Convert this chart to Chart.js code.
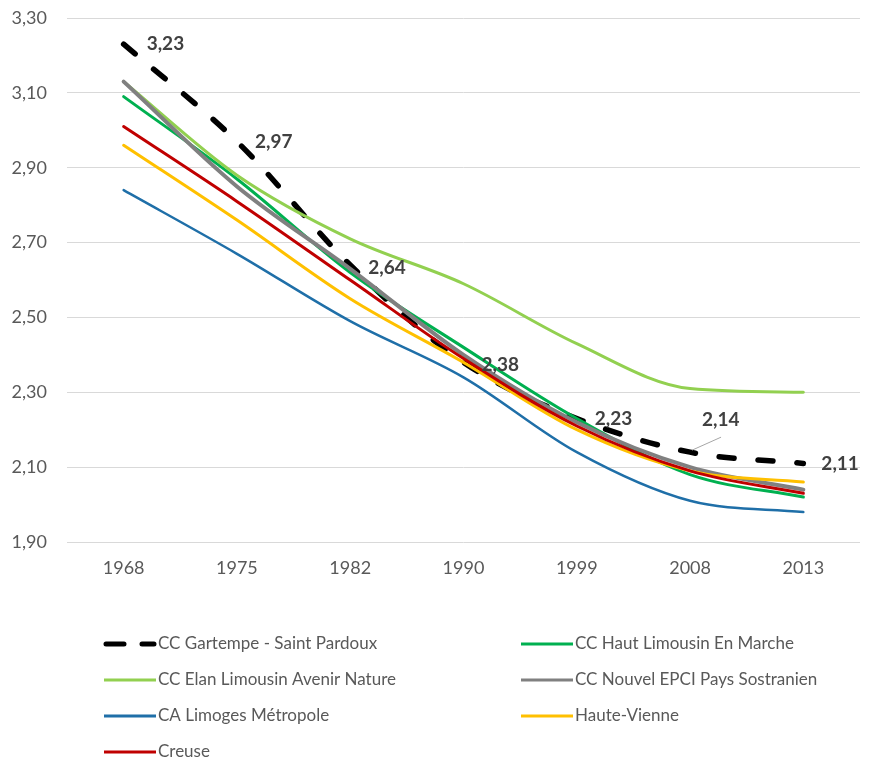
<!DOCTYPE html>
<html>
<head>
<meta charset="utf-8">
<script src="https://cdn.jsdelivr.net/npm/chart.js@4.4.1/dist/chart.umd.min.js"></script>
<style>
  html, body { margin: 0; padding: 0; background: #ffffff; }
  #wrap { width: 869px; height: 760px; }
</style>
</head>
<body>
<div id="wrap"><canvas id="chart" width="869" height="760"></canvas></div>
<script>
// ── data ──
const years = ['1968', '1975', '1982', '1990', '1999', '2008', '2013'];
const yTicks = [1.9, 2.1, 2.3, 2.5, 2.7, 2.9, 3.1, 3.3];

const seriesNames = [
  'CC Gartempe - Saint Pardoux',
  'CC Haut Limousin En Marche',
  'CC Elan Limousin Avenir Nature',
  'CC Nouvel EPCI Pays Sostranien',
  'CA Limoges Métropole',
  'Haute-Vienne',
  'Creuse'
];
const gartempe   = [3.23, 2.97, 2.64, 2.38, 2.23, 2.14, 2.11];
const hautLim    = [3.09, 2.87, 2.62, 2.42, 2.23, 2.08, 2.02];
const elanLim    = [3.13, 2.88, 2.71, 2.59, 2.43, 2.31, 2.30];
const sostranien = [3.13, 2.85, 2.63, 2.40, 2.22, 2.10, 2.04];
const limoges    = [2.84, 2.67, 2.49, 2.34, 2.14, 2.01, 1.98];
const hauteVienne= [2.96, 2.76, 2.55, 2.38, 2.20, 2.09, 2.06];
const creuse     = [3.01, 2.81, 2.60, 2.39, 2.21, 2.09, 2.03];

const seriesData = [gartempe, hautLim, elanLim, sostranien, limoges, hauteVienne, creuse];
const colors = ['#000000', '#00B050', '#92D050', '#808080', '#1F6FA8', '#FFC000', '#C00000'];
const widths = [5.5, 3, 3, 4, 2.5, 3, 3];

// label offsets for the dashed series (style only)
const labelOffsets = [[23, 0], [18, 0], [18, 3], [18, 3], [18, 0], [12, -32], [18, 0]];

const fmt = v => v.toFixed(2).replace('.', ',');
const FONT = 'Lato, "Open Sans", sans-serif';

const datasets = seriesData.map((d, i) => ({
  label: seriesNames[i],
  data: d,
  borderColor: colors[i],
  backgroundColor: colors[i],
  borderWidth: widths[i],
  borderDash: i === 0 ? [15, 24] : [],
  borderCapStyle: 'round',
  pointRadius: 0,
  cubicInterpolationMode: 'monotone',
  fill: false,
  order: seriesData.length - 1 - i
}));

// ── value labels on the dashed series ──
const valueLabels = {
  id: 'valueLabels',
  afterDatasetsDraw(chart) {
    const ctx = chart.ctx;
    const meta = chart.getDatasetMeta(0);
    ctx.save();
    ctx.font = 'bold 19px ' + FONT;
    ctx.fillStyle = '#404040';
    ctx.textBaseline = 'middle';
    ctx.textAlign = 'left';
    meta.data.forEach((pt, i) => {
      const [dx, dy] = labelOffsets[i];
      if (dy < -10) {
        ctx.strokeStyle = '#a6a6a6';
        ctx.lineWidth = 1;
        ctx.beginPath();
        ctx.moveTo(pt.x + 2, pt.y - 2);
        ctx.lineTo(pt.x + 31, pt.y - 15);
        ctx.stroke();
      }
      ctx.fillText(fmt(gartempe[i]), pt.x + dx, pt.y + dy);
    });
    ctx.restore();
  }
};

// ── two-column legend under the plot ──
const bottomLegend = {
  id: 'bottomLegend',
  afterDraw(chart) {
    const ctx = chart.ctx;
    const colX = [104, 521];
    ctx.save();
    ctx.font = '17px ' + FONT;
    ctx.textBaseline = 'middle';
    ctx.textAlign = 'left';
    seriesNames.forEach((name, i) => {
      const x = colX[i % 2];
      const y = 644 + Math.floor(i / 2) * 36;
      ctx.strokeStyle = colors[i];
      ctx.lineCap = 'round';
      if (i === 0) {
        ctx.lineWidth = 5;
        ctx.setLineDash([18, 18]);
        ctx.beginPath();
        ctx.moveTo(x + 2, y);
        ctx.lineTo(x + 50, y);
        ctx.stroke();
        ctx.setLineDash([]);
      } else {
        ctx.lineWidth = 3;
        ctx.lineCap = 'butt';
        ctx.beginPath();
        ctx.moveTo(x, y);
        ctx.lineTo(x + 52, y);
        ctx.stroke();
      }
      ctx.fillStyle = '#595959';
      ctx.fillText(name, x + 54, y);
    });
    ctx.restore();
  }
};

new Chart(document.getElementById('chart').getContext('2d'), {
  type: 'line',
  data: { labels: years, datasets },
  options: {
    responsive: false,
    animation: false,
    layout: { autoPadding: false, padding: { top: 18, right: 9, bottom: 178, left: 0 } },
    scales: {
      x: {
        offset: true,
        grid: { display: false },
        border: { display: false },
        ticks: {
          color: '#595959',
          font: { family: FONT, size: 18 },
          padding: 7,
          maxRotation: 0
        },
        afterFit(scale) {
          scale.height = 40;
          scale.paddingLeft = 0;
          scale.paddingRight = 0;
        }
      },
      y: {
        min: 1.9,
        max: 3.3,
        grid: { color: '#d9d9d9', lineWidth: 1, drawTicks: false },
        border: { display: false },
        afterBuildTicks(scale) { scale.ticks = yTicks.map(v => ({ value: v })); },
        ticks: {
          color: '#595959',
          font: { family: FONT, size: 18 },
          padding: 20,
          callback: v => fmt(v)
        },
        afterFit(scale) {
          scale.width = 67;
          scale.paddingTop = 0;
          scale.paddingBottom = 0;
        }
      }
    },
    plugins: {
      legend: { display: false },
      tooltip: { enabled: false }
    }
  },
  plugins: [valueLabels, bottomLegend]
});
</script>
</body>
</html>
